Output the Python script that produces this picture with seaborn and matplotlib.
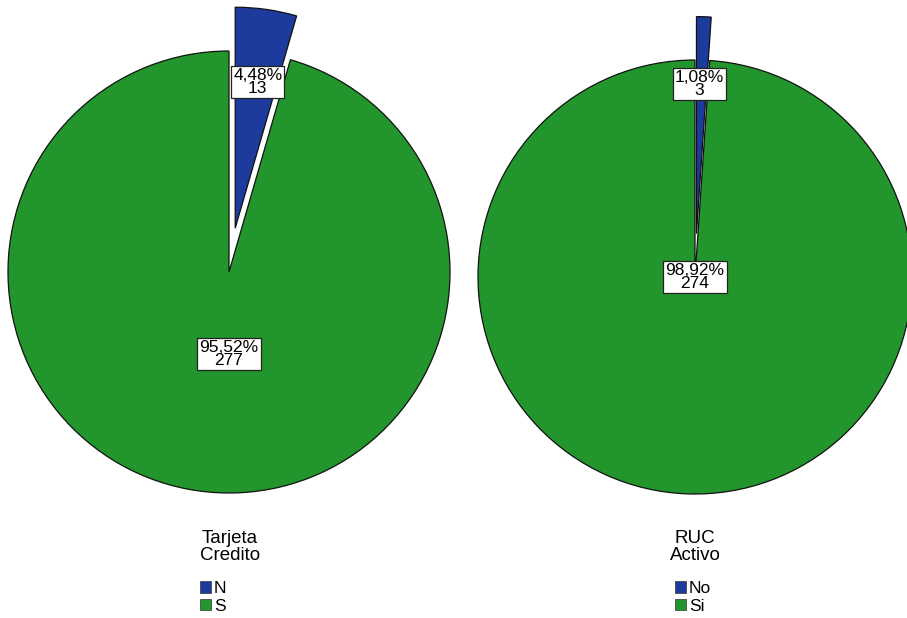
import matplotlib
matplotlib.use("Agg")
import matplotlib.pyplot as plt
import matplotlib.patches as mpatches
import seaborn as sns

sns.set_style("white")
plt.rcParams['font.family'] = ['Liberation Sans', 'DejaVu Sans']
plt.rcParams['text.color'] = 'black'

# ---- data ----
tarjeta_labels = ["N", "S"]
tarjeta_counts = [13, 277]
tarjeta_pcts = ["4,48%", "95,52%"]

ruc_labels = ["No", "Si"]
ruc_counts = [3, 274]
ruc_pcts = ["1,08%", "98,92%"]

colors = ["#1d3b9c", "#22962c"]

W, H = 907, 618
fig = plt.figure(figsize=(W / 100, H / 100), dpi=100)


def add_pie(cx, cy, r, counts, pcts, label_pos, title, legend_labels, title_x, leg_x):
    ax = fig.add_axes([(cx - r) / W, (H - cy - r) / H, 2 * r / W, 2 * r / H])
    wedges, _ = ax.pie(counts, colors=colors, startangle=90, counterclock=False,
                       explode=[0.2, 0.0], radius=1.0,
                       wedgeprops=dict(edgecolor="#111111", linewidth=0.9))
    for w in wedges:
        w.set_clip_on(False)
    ax.set_xlim(-1, 1)
    ax.set_ylim(-1, 1)
    ax.set_aspect("equal")
    ax.axis("off")
    for (x, y), p, c in zip(label_pos, pcts, counts):
        ax.text(x, y, f"{p}\n{c}", ha="center", va="center", fontsize=12.5,
                linespacing=0.85, zorder=5, color="black",
                bbox=dict(boxstyle="square,pad=0.12", facecolor="white",
                          edgecolor="#222222", linewidth=0.9))
    fig.text(title_x / W, 1 - 547 / H, title, ha="center", va="center",
             fontsize=13.5, linespacing=0.95, color="black")
    handles = [mpatches.Patch(facecolor=col, edgecolor="#333333", linewidth=0.5)
               for col in colors]
    leg = fig.legend(handles, legend_labels, loc="upper left",
                     bbox_to_anchor=((leg_x - 2) / W, 1 - 581 / H),
                     frameon=False, fontsize=12.5, handlelength=0.65, handleheight=0.65,
                     handletextpad=0.15, labelspacing=0.15, borderpad=0,
                     borderaxespad=0)
    for t in leg.get_texts():
        t.set_color("black")


add_pie(229, 272, 221, tarjeta_counts, tarjeta_pcts,
        [(0.13, 0.86), (0.0, -0.37)], "Tarjeta\nCredito", tarjeta_labels, 230, 202)
add_pie(695, 277, 217, ruc_counts, ruc_pcts,
        [(0.02, 0.89), (0.0, 0.0)], "RUC\nActivo", ruc_labels, 695, 677)

fig.savefig("out.png", dpi=100, facecolor="white")
